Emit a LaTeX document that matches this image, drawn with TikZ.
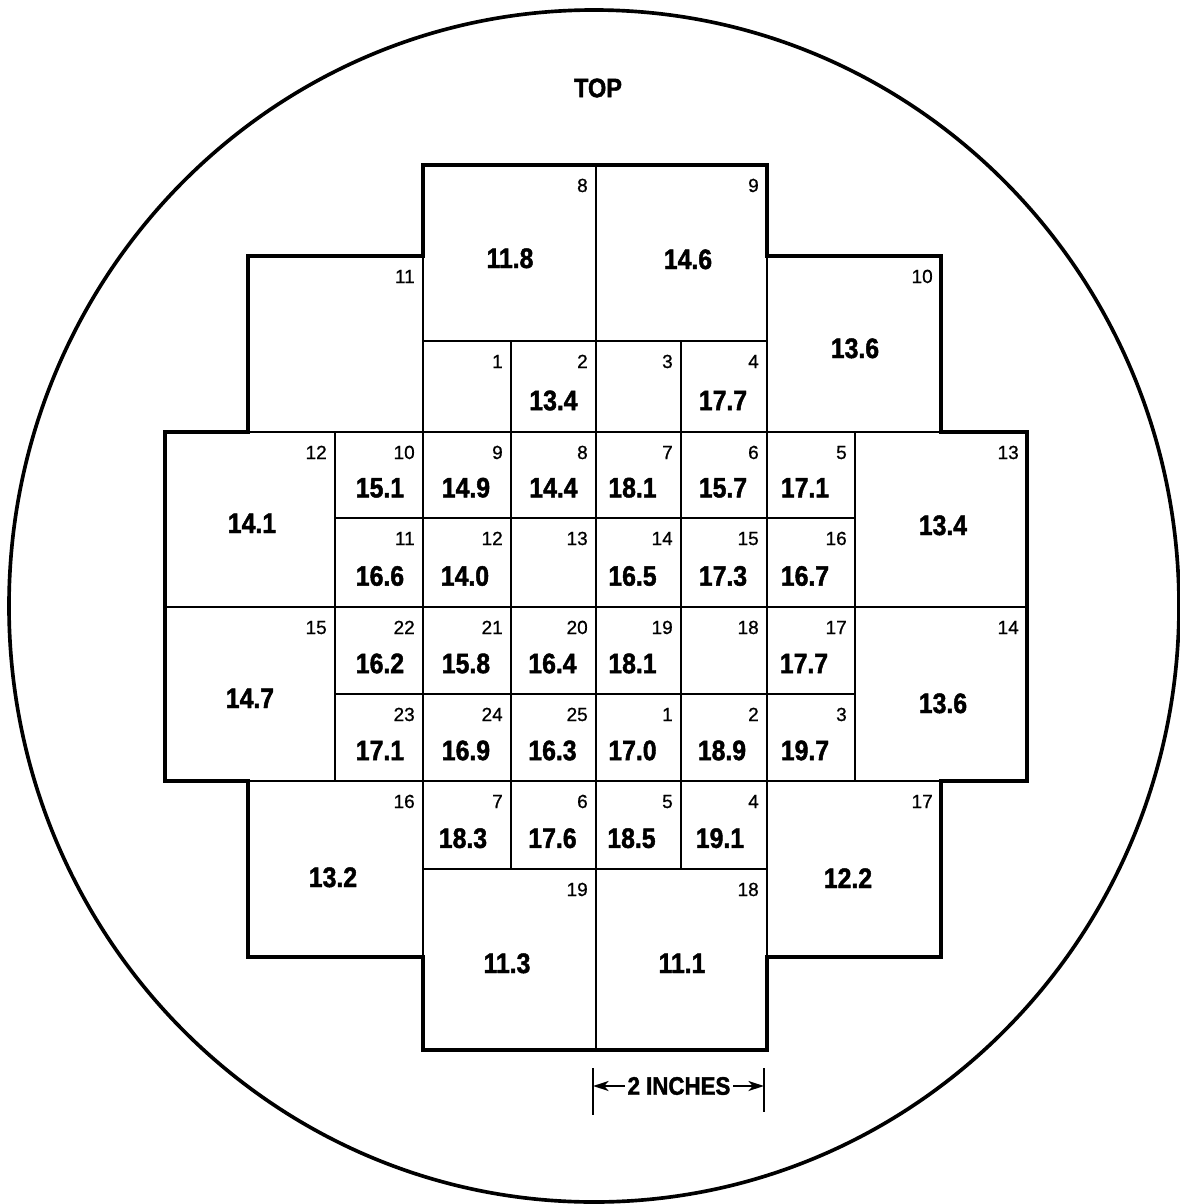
\documentclass[tikz,border=0pt]{standalone}
\usepackage{fontspec}
\setmainfont{Liberation Sans}
\newfontfamily\valfont[FakeStretch=0.88, BoldFeatures={FakeBold=1.6}]{Liberation Sans}
\newfontfamily\numfont[FakeBold=0.8]{Liberation Sans}
\usetikzlibrary{arrows.meta}
\tikzset{
  innerline/.style={line width=1.3pt},
  outerline/.style={line width=2.8pt, line join=miter},
  numlbl/.style={anchor=base east, inner sep=0pt, font=\numfont\fontsize{13.5}{13.5}\selectfont},
  vallbl/.style={anchor=base, inner sep=0pt, font=\valfont\bfseries\fontsize{20}{20}\selectfont},
  dimline/.style={line width=1.3pt},
  dimarrow/.style={line width=1.8pt, -{Stealth[length=11pt,width=7pt,inset=3pt]}},
}
\newcommand\smallcell[7]{%
  \draw[innerline] (#1,#2) rectangle (#3,#4);
  \node[numlbl] (n-#1-#2) at ({#3-8},{#2+27}) {#5};
  \if\relax\detokenize{#6}\relax\else
    \node[vallbl] (v-#1-#2) at ({(#1+#3)/2+#7},{#2+0.76*(#4-#2)}) {#6};
  \fi
}
\newcommand\bigcell[8]{%
  \draw[innerline] (#1,#2) rectangle (#3,#4);
  \node[numlbl] (N-#5) at ({#3-8},{#2+27}) {#5};
  \if\relax\detokenize{#6}\relax\else
    \node[vallbl] (V-#5) at (#7,#8) {#6};
  \fi
}
\begin{document}
\begin{tikzpicture}[x=0.025cm, y=-0.025cm]
\useasboundingbox (0,0) rectangle (1179,1204);
% outer ellipse
\draw[line width=2.6pt] (594,606) ellipse [x radius=585, y radius=596];
\node[inner sep=0pt, font=\valfont\bfseries\fontsize{19}{19}\selectfont] (top) at (598,88) {TOP};
% big boxes
\bigcell{423}{165}{596}{341}{8}{11.8}{510}{268}
\bigcell{596}{165}{767}{341}{9}{14.6}{688}{269}
\bigcell{248}{256}{423}{432}{11}{}{0}{0}
\bigcell{767}{256}{941}{432}{10}{13.6}{855}{358}
\bigcell{165}{432}{335}{607}{12}{14.1}{252}{533}
\bigcell{165}{607}{335}{781}{15}{14.7}{250}{708}
\bigcell{855}{432}{1027}{607}{13}{13.4}{943}{535}
\bigcell{855}{607}{1027}{781}{14}{13.6}{943}{713}
\bigcell{248}{781}{423}{957}{16}{13.2}{333}{887}
\bigcell{767}{781}{941}{957}{17}{12.2}{848}{888}
\bigcell{423}{869}{596}{1050}{19}{11.3}{507}{973}
\bigcell{596}{869}{767}{1050}{18}{11.1}{682}{973}
% row 341-432
\smallcell{423}{341}{511}{432}{1}{}{0}
\smallcell{511}{341}{596}{432}{2}{13.4}{0}
\smallcell{596}{341}{681}{432}{3}{}{0}
\smallcell{681}{341}{767}{432}{4}{17.7}{-1}
% row 432-518
\smallcell{335}{432}{423}{518}{10}{15.1}{1}
\smallcell{423}{432}{511}{518}{9}{14.9}{-1}
\smallcell{511}{432}{596}{518}{8}{14.4}{0}
\smallcell{596}{432}{681}{518}{7}{18.1}{-6}
\smallcell{681}{432}{767}{518}{6}{15.7}{-1}
\smallcell{767}{432}{855}{518}{5}{17.1}{-6}
% row 518-607
\smallcell{335}{518}{423}{607}{11}{16.6}{1}
\smallcell{423}{518}{511}{607}{12}{14.0}{-2}
\smallcell{511}{518}{596}{607}{13}{}{0}
\smallcell{596}{518}{681}{607}{14}{16.5}{-6}
\smallcell{681}{518}{767}{607}{15}{17.3}{-1}
\smallcell{767}{518}{855}{607}{16}{16.7}{-6}
% row 607-694
\smallcell{335}{607}{423}{694}{22}{16.2}{1}
\smallcell{423}{607}{511}{694}{21}{15.8}{-1}
\smallcell{511}{607}{596}{694}{20}{16.4}{-1}
\smallcell{596}{607}{681}{694}{19}{18.1}{-6}
\smallcell{681}{607}{767}{694}{18}{}{0}
\smallcell{767}{607}{855}{694}{17}{17.7}{-7}
% row 694-781
\smallcell{335}{694}{423}{781}{23}{17.1}{1}
\smallcell{423}{694}{511}{781}{24}{16.9}{-1}
\smallcell{511}{694}{596}{781}{25}{16.3}{-1}
\smallcell{596}{694}{681}{781}{1}{17.0}{-6}
\smallcell{681}{694}{767}{781}{2}{18.9}{-2}
\smallcell{767}{694}{855}{781}{3}{19.7}{-6}
% row 781-869
\smallcell{423}{781}{511}{869}{7}{18.3}{-4}
\smallcell{511}{781}{596}{869}{6}{17.6}{-1}
\smallcell{596}{781}{681}{869}{5}{18.5}{-7}
\smallcell{681}{781}{767}{869}{4}{19.1}{-4}
% outer contour
\draw[outerline] (423,165) -- (767,165) -- (767,256) -- (941,256) -- (941,432)
  -- (1027,432) -- (1027,781) -- (941,781) -- (941,957) -- (767,957)
  -- (767,1050) -- (423,1050) -- (423,957) -- (248,957) -- (248,781)
  -- (165,781) -- (165,432) -- (248,432) -- (248,256) -- (423,256) -- cycle;
% scale bar
\coordinate (tlA) at (593,1068);
\coordinate (tlB) at (593,1115);
\coordinate (trA) at (764,1068);
\coordinate (trB) at (764,1112);
\draw[dimline] (tlA) -- (tlB);
\draw[dimline] (trA) -- (trB);
\node[inner sep=0pt, font=\valfont\bfseries\fontsize{18}{18}\selectfont] (dim) at (679,1086) {2 INCHES};
\coordinate (arL) at (593,1086);
\coordinate (arR) at (764,1086);
\draw[dimarrow] ([xshift=-2pt]dim.west) -- (arL);
\draw[dimarrow] ([xshift=2pt]dim.east) -- (arR);
\end{tikzpicture}
\end{document}
